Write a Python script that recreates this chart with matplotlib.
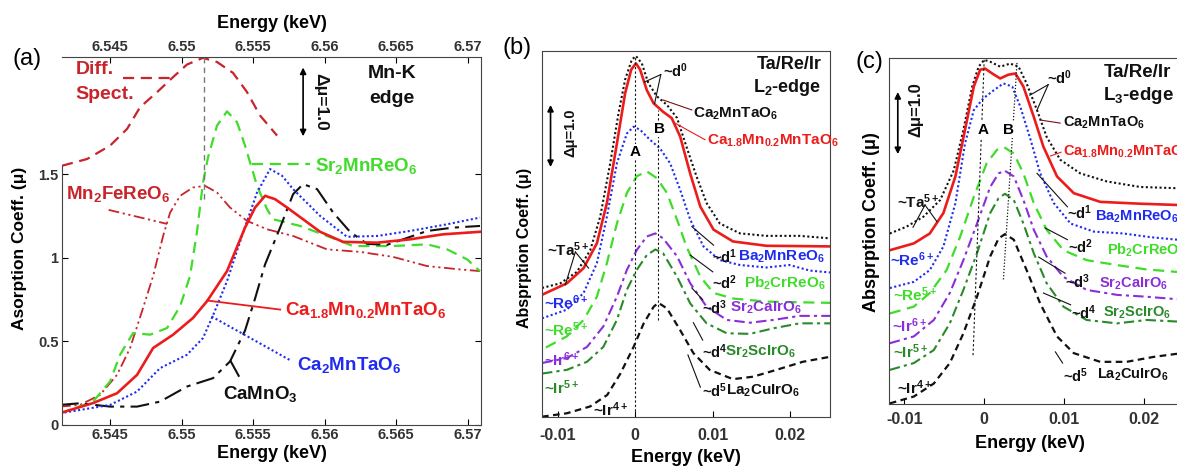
import matplotlib.pyplot as plt

# ---------------- figure geometry (pixels) ----------------
W, H = 1177, 466

# ---------------- colours ----------------
RED = "#ec1c1c"
DKRED = "#c8242c"
GREEN = "#3fdc2a"
BLUE = "#1f2bef"
PURPLE = "#8a2fd8"
DKGREEN = "#2a8a2a"
BLACK = "#111111"

# ================= panel (a): Mn-K edge =================
a_e_diff = [6.54164, 6.54339, 6.5450, 6.54619, 6.5471, 6.54829, 6.54941, 6.55038,
            6.5515, 6.55248, 6.5536, 6.55458, 6.55549, 6.55668]
a_mu_diff = [1.55, 1.59, 1.67, 1.77, 1.90, 1.99, 2.08, 2.155, 2.195, 2.17, 2.105, 1.99, 1.85, 1.73]

a_e_camt18 = [6.54150, 6.54381, 6.54549, 6.54689, 6.54801, 6.54941, 6.55080, 6.55178, 6.55318,
              6.55444, 6.55514, 6.55584, 6.55654, 6.55738, 6.55969, 6.56129, 6.56367, 6.56598,
              6.56829, 6.57087]
a_mu_camt18 = [0.071, 0.131, 0.19, 0.30, 0.46, 0.54, 0.64, 0.74, 0.92, 1.18, 1.30, 1.37, 1.35,
               1.30, 1.155, 1.095, 1.09, 1.11, 1.14, 1.155]

a_e_camt = [6.54150, 6.54500, 6.54689, 6.54850, 6.55038, 6.55150, 6.55220, 6.55318, 6.55430,
            6.55528, 6.55619, 6.55703, 6.55780, 6.55969, 6.56157, 6.56367, 6.56598, 6.56857, 6.57087]
a_mu_camt = [0.07, 0.12, 0.20, 0.34, 0.42, 0.52, 0.655, 0.86, 1.15, 1.39, 1.53, 1.49, 1.41, 1.25,
             1.125, 1.13, 1.16, 1.20, 1.24]

a_e_cmo = [6.54150, 6.54290, 6.54500, 6.54689, 6.54850, 6.55038, 6.55220, 6.55339, 6.55444,
           6.55514, 6.55584, 6.55689, 6.55780, 6.55850, 6.55948, 6.56060, 6.56178, 6.56297,
           6.56437, 6.56549, 6.56717, 6.56899, 6.57087]
a_mu_cmo = [0.12, 0.13, 0.11, 0.11, 0.14, 0.23, 0.28, 0.38, 0.565, 0.756, 0.96, 1.18, 1.38, 1.44,
            1.41, 1.27, 1.155, 1.083, 1.077, 1.11, 1.16, 1.18, 1.19]

a_e_smro = [6.54150, 6.54381, 6.54500, 6.54570, 6.54661, 6.54780, 6.54899, 6.54990, 6.55059,
            6.55108, 6.55150, 6.55185, 6.55248, 6.55318, 6.55388, 6.55444, 6.55479, 6.55528,
            6.55598, 6.55640, 6.55829, 6.56017, 6.56199, 6.56479, 6.56717, 6.56857, 6.56997, 6.57087]
a_mu_smro = [0.07, 0.14, 0.26, 0.42, 0.55, 0.54, 0.58, 0.71, 0.89, 1.155, 1.45, 1.60, 1.79, 1.875,
             1.81, 1.67, 1.57, 1.43, 1.29, 1.23, 1.19, 1.13, 1.07, 1.07, 1.08, 1.05, 0.99, 0.92]

a_e_mfro = [6.54150, 6.54290, 6.54430, 6.54549, 6.54640, 6.54731, 6.54801, 6.54871, 6.54920,
            6.54990, 6.55080, 6.55164, 6.55248, 6.55339, 6.55458, 6.55598, 6.55780, 6.56017,
            6.56248, 6.56479, 6.56717, 6.56948, 6.57087]
a_mu_mfro = [0.11, 0.12, 0.18, 0.30, 0.46, 0.70, 0.89, 1.13, 1.27, 1.37, 1.42, 1.43, 1.39, 1.30,
             1.22, 1.17, 1.13, 1.05, 1.035, 1.005, 0.95, 0.93, 0.92]

a_xticks = [6.545, 6.55, 6.555, 6.56, 6.565, 6.57]
a_xticklabels = ["6.545", "6.55", "6.555", "6.56", "6.565", "6.57"]
a_yticks = [0, 0.5, 1, 1.5]
a_yticklabels = ["0", "0.5", "1", "1.5"]

# ================= panel (b): L2 edge =================
b_e_blk = [-0.0120, -0.00964, -0.0075, -0.00578, -0.0045, -0.00321, -0.00214, -0.00129, -0.00043,
           0.0001, 0.00086, 0.0017, 0.0028, 0.0041, 0.0054, 0.0066, 0.0079, 0.0092, 0.0109,
           0.0135, 0.0169, 0.0212, 0.0251]
b_mu_blk = [2.08, 2.155, 2.34, 2.69, 3.23, 4.09, 4.90, 5.44, 5.76, 5.82, 5.70, 5.38, 5.17, 5.03,
            4.82, 4.36, 3.88, 3.45, 3.12, 2.96, 2.92, 2.92, 2.88]
b_e_red = [-0.0120, -0.0088, -0.00664, -0.00493, -0.00364, -0.00235, -0.00129, -0.00051, 0.0001,
           0.00064, 0.0015, 0.00236, 0.0036, 0.0047, 0.0058, 0.0071, 0.0084, 0.0101, 0.0126,
           0.0169, 0.0251]
b_mu_red = [1.97, 2.155, 2.40, 2.80, 3.45, 4.41, 5.22, 5.60, 5.70, 5.60, 5.27, 5.06, 4.92, 4.82,
            4.52, 3.92, 3.39, 3.02, 2.83, 2.76, 2.75]
b_e_blu = [-0.012, -0.0088, -0.00664, -0.00493, -0.00364, -0.00235, -0.00107, -0.0002, 0.00064,
           0.0019, 0.0032, 0.0045, 0.0058, 0.0071, 0.0088, 0.0109, 0.0135, 0.0169, 0.0199,
           0.0225, 0.0251]
b_mu_blu = [1.59, 1.73, 2.00, 2.48, 3.23, 4.09, 4.57, 4.68, 4.63, 4.47, 4.33, 4.09, 3.66, 3.18,
            2.75, 2.53, 2.45, 2.41, 2.45, 2.36, 2.33]
b_e_grn = [-0.0115, -0.0088, -0.00664, -0.00493, -0.00364, -0.00235, -0.00107, 0.0002, 0.0015,
           0.0028, 0.0041, 0.0054, 0.0066, 0.0084, 0.0101, 0.0126, 0.0169, 0.0251]
b_mu_grn = [1.12, 1.30, 1.565, 1.94, 2.48, 3.12, 3.61, 3.88, 3.96, 3.85, 3.61, 3.18, 2.75, 2.26,
            2.00, 1.91, 1.86, 1.84]
b_e_ir = [-0.012, -0.0088, -0.0062, -0.0041, -0.00235, -0.00107, 0.0002, 0.0015, 0.0026, 0.0036,
          0.0054, 0.0071, 0.0092, 0.0118, 0.0148, 0.0178, 0.0212, 0.0251]
b_mu_pur = [0.87, 0.95, 1.13, 1.46, 1.94, 2.37, 2.69, 2.91, 2.96, 2.88, 2.59, 2.155, 1.78, 1.565,
            1.52, 1.565, 1.63, 1.63]
b_mu_dgr = [0.70, 0.76, 0.89, 1.13, 1.565, 2.05, 2.37, 2.61, 2.70, 2.64, 2.26, 1.83, 1.51, 1.35,
            1.34, 1.43, 1.51, 1.51]
b_e_dsh = [-0.012, -0.0088, -0.0058, -0.0036, -0.0019, -0.0002, 0.0011, 0.0024, 0.0030, 0.0041,
           0.0058, 0.0075, 0.0096, 0.0126, 0.0152, 0.0182, 0.0216, 0.0251]
b_mu_dsh = [0.005, 0.06, 0.17, 0.355, 0.70, 1.13, 1.51, 1.78, 1.84, 1.75, 1.40, 1.03, 0.76, 0.61,
            0.65, 0.76, 0.89, 0.97]

# ================= panel (c): L3 edge =================
c_e_blk = [-0.0118, -0.0097, -0.0076, -0.0055, -0.0038, -0.0026, -0.0015, -0.0007, 0.0, 0.00075,
           0.002, 0.00325, 0.0043, 0.0053, 0.0066, 0.0078, 0.0095, 0.012, 0.0153, 0.0195, 0.0241]
c_mu_blk = [2.75, 2.86, 3.02, 3.29, 3.77, 4.42, 5.12, 5.44, 5.55, 5.52, 5.44, 5.49, 5.44, 5.17,
            4.74, 4.31, 3.94, 3.72, 3.59, 3.50, 3.48]
c_e_red = [-0.0118, -0.0088, -0.0068, -0.0051, -0.0036, -0.0024, -0.0013, -0.0005, 0.0001, 0.001,
           0.002, 0.003, 0.0039, 0.0049, 0.0062, 0.0074, 0.0091, 0.0112, 0.0145, 0.0195, 0.0241]
c_mu_red = [2.48, 2.59, 2.75, 3.08, 3.67, 4.42, 5.12, 5.39, 5.41, 5.33, 5.25, 5.31, 5.33, 5.12,
            4.63, 4.15, 3.67, 3.40, 3.26, 3.23, 3.21]
c_e_blu = [-0.0118, -0.0088, -0.0068, -0.0051, -0.0036, -0.0024, -0.0013, -0.0001, 0.0012, 0.0024,
           0.0035, 0.0045, 0.0058, 0.007, 0.0087, 0.0108, 0.0137, 0.0174, 0.0208, 0.0241]
c_mu_blu = [1.87, 1.97, 2.16, 2.54, 3.24, 4.20, 4.74, 4.93, 5.06, 5.17, 5.12, 4.80, 4.26, 3.72,
            3.24, 2.91, 2.78, 2.75, 2.69, 2.65]
c_e_grn = [-0.0118, -0.0088, -0.0068, -0.0047, -0.003, -0.0013, 0.0003, 0.0016, 0.0025, 0.0037,
           0.0049, 0.0062, 0.0078, 0.0099, 0.0128, 0.0166, 0.0203, 0.0241]
c_mu_grn = [1.46, 1.57, 1.79, 2.16, 2.70, 3.34, 3.88, 4.10, 4.14, 4.04, 3.72, 3.24, 2.81, 2.48,
            2.32, 2.24, 2.17, 2.13]
c_e_ir = [-0.0118, -0.0088, -0.0063, -0.0043, -0.0026, -0.0009, 0.00075, 0.0018, 0.0026, 0.0037,
          0.0049, 0.0062, 0.0078, 0.0099, 0.0128, 0.0166, 0.0203, 0.0241]
c_mu_pur = [0.98, 1.09, 1.355, 1.79, 2.32, 2.91, 3.50, 3.72, 3.76, 3.67, 3.29, 2.81, 2.38, 2.05,
            1.84, 1.76, 1.73, 1.69]
c_mu_dgr = [0.55, 0.66, 0.87, 1.30, 1.84, 2.43, 3.08, 3.32, 3.39, 3.29, 2.91, 2.43, 1.95, 1.57,
            1.355, 1.30, 1.355, 1.33]
c_e_dsh = [-0.0118, -0.0088, -0.0063, -0.0043, -0.0026, -0.0009, 0.00075, 0.0018, 0.0026, 0.0037,
           0.0053, 0.007, 0.0091, 0.0112, 0.0145, 0.0178, 0.0212, 0.0241]
c_mu_dsh = [0.01, 0.12, 0.33, 0.66, 1.14, 1.73, 2.38, 2.67, 2.74, 2.65, 2.16, 1.62, 1.09, 0.82,
            0.68, 0.68, 0.76, 0.81]

bc_xticks = [-0.01, 0, 0.01, 0.02]
bc_xticklabels = ["-0.01", "0", "0.01", "0.02"]

# ---------------- line styles ----------------
DOT = dict(ls=(0, (1, 1.2)), lw=1.5)
SOLID = dict(ls="-", lw=1.9)
DASH = dict(ls=(0, (5, 3)), lw=1.6)
DASHDOT = dict(ls=(0, (5, 2, 1.5, 2)), lw=1.5)
SHORTDASH = dict(ls=(0, (3, 2)), lw=1.6)
LONGDD = dict(ls=(0, (9, 3, 2, 3)), lw=1.5)
DDD = dict(ls=(0, (6, 2, 1.2, 2, 1.2, 2)), lw=1.3)

plt.rcParams["font.family"] = ["Liberation Sans", "DejaVu Sans"]
plt.rcParams["font.weight"] = "bold"
plt.rcParams["mathtext.fontset"] = "custom"
plt.rcParams["mathtext.rm"] = "Liberation Sans:bold"
plt.rcParams["mathtext.it"] = "Liberation Sans:bold"
plt.rcParams["mathtext.bf"] = "Liberation Sans:bold"
plt.rcParams["axes.edgecolor"] = "#444444"


def box(left, top, right, bottom):
    return [left / W, 1 - bottom / H, (right - left) / W, (bottom - top) / H]


def ftext(px, py, s, **kw):
    fig.text(px / W, 1 - py / H, s, ha="center", va="center", **kw)


def lab(ax, x, y, s, c, fs, **kw):
    ax.text(x, y, s, color=c, fontsize=fs, fontweight="bold", va="center", **kw)


def darrow(ax, x, y0, y1):
    ax.annotate("", xy=(x, y1), xytext=(x, y0),
                arrowprops=dict(arrowstyle="<|-|>", color="k", lw=1.2,
                                mutation_scale=9, shrinkA=0, shrinkB=0))


fig = plt.figure(figsize=(W / 100, H / 100), dpi=100)

# ======================= (a) =======================
ax = fig.add_axes(box(62, 57, 481, 425))
ax.plot(a_e_diff, a_mu_diff, color=DKRED, **DASH)
ax.plot(a_e_mfro, a_mu_mfro, color=DKRED, **DDD)
ax.plot(a_e_smro, a_mu_smro, color=GREEN, **DASH)
ax.plot(a_e_cmo, a_mu_cmo, color=BLACK, **LONGDD)
ax.plot(a_e_camt, a_mu_camt, color=BLUE, **DOT)
ax.plot(a_e_camt18, a_mu_camt18, color=RED, **SOLID)
ax.plot([6.5516, 6.5516], [1.35, 2.2], color="#777777", ls=(0, (4, 3)), lw=1.0)

# leader lines
ax.plot([6.5459, 6.5494], [2.075, 2.075], color=DKRED, **DASH)
ax.plot([6.5549, 6.5590], [1.56, 1.56], color=GREEN, **DASH)
ax.plot([6.5449, 6.5490], [1.286, 1.202], color=DKRED, **DDD)
ax.plot([6.5518, 6.5569], [0.744, 0.69], color=RED, lw=1.3)
ax.plot([6.5521, 6.5576], [0.649, 0.387], color=BLUE, **DOT)
ax.plot([6.5534, 6.5542], [0.387, 0.262], color=BLACK, **LONGDD)

lab(ax, 6.5426, 2.125, "Diff.", DKRED, 14)
lab(ax, 6.5426, 1.976, "Spect.", DKRED, 14)
lab(ax, 6.5647, 2.10, "Mn-K", BLACK, 14, ha="center")
lab(ax, 6.5647, 1.952, "edge", BLACK, 14, ha="center")
darrow(ax, 6.5585, 1.726, 2.137)
lab(ax, 6.5597, 1.93, "Δμ=1.0", BLACK, 12.5, rotation=270, ha="center")
lab(ax, 6.5593, 1.55, r"Sr$_2$MnReO$_6$", GREEN, 13.5)
lab(ax, 6.5419, 1.38, r"Mn$_2$FeReO$_6$", DKRED, 13.5)
lab(ax, 6.5572, 0.69, r"Ca$_{1.8}$Mn$_{0.2}$MnTaO$_6$", RED, 13.5)
lab(ax, 6.5581, 0.357, r"Ca$_2$MnTaO$_6$", BLUE, 13.5)
lab(ax, 6.5529, 0.185, r"CaMnO$_3$", BLACK, 13.5)

ax.set_xlim(6.54164, 6.57094)
ax.set_ylim(0, 2.2)
ax.set_xticks(a_xticks)
ax.set_xticklabels(a_xticklabels)
ax.set_yticks(a_yticks)
ax.set_yticklabels(a_yticklabels)
ax.tick_params(direction="in", top=True, right=True, labeltop=True, labelsize=10.5,
               pad=2.5, labelcolor="#333333", length=4)
ax.spines["left"].set_bounds(0, 1.55)

ftext(27, 59, "(a)", fontsize=17, fontweight="normal")
ftext(272, 24, "Energy (keV)", fontsize=13)
ftext(272, 453, "Energy (keV)", fontsize=13)
ftext(20, 248, "Asorption Coeff. (μ)", fontsize=12.5, rotation=90)


# ======================= (b) and (c) =======================
def edge_panel(ax, curves):
    for e, mu, col, sty in curves:
        ax.plot(e, mu, color=col, **sty)
    ax.set_xticks(bc_xticks)
    ax.set_xticklabels(bc_xticklabels)
    ax.set_yticks([])
    ax.tick_params(axis="x", direction="in", labelsize=11.5, labelcolor="#333333", length=4)


ax = fig.add_axes(box(542, 51, 830, 417))
edge_panel(ax, [
    (b_e_dsh, b_mu_dsh, BLACK, SHORTDASH),
    (b_e_ir, b_mu_dgr, DKGREEN, DASHDOT),
    (b_e_ir, b_mu_pur, PURPLE, DASHDOT),
    (b_e_grn, b_mu_grn, GREEN, DASH),
    (b_e_blu, b_mu_blu, BLUE, DOT),
    (b_e_blk, b_mu_blk, BLACK, DOT),
    (b_e_red, b_mu_red, RED, SOLID),
])
ax.set_xlim(-0.0120, 0.0251)
ax.set_ylim(0, 5.9)
ax.tick_params(axis="x", pad=8)
ax.plot([0, 0], [0.1, 5.82], color=BLACK, ls=(0, (2, 2)), lw=0.8)
ax.plot([0.003, 0.003], [1.56, 4.95], color=BLACK, ls=(0, (2, 2)), lw=0.8)
ax.text(0, 4.27, "A", fontsize=11, ha="center", va="center",
        bbox=dict(fc="white", ec="none", pad=0.5))
ax.text(0.0031, 4.64, "B", fontsize=11, ha="center", va="center",
        bbox=dict(fc="white", ec="none", pad=0.5))
darrow(ax, -0.0109, 4.03, 5.03)
lab(ax, -0.0084, 4.58, "Δμ=1.0", BLACK, 10.5, rotation=90, ha="center")
lab(ax, 0.0240, 5.68, "Ta/Re/Ir", BLACK, 13, ha="right")
lab(ax, 0.0240, 5.31, r"L$_2$-edge", BLACK, 13, ha="right")

b_leaders = [
    ([0.0033, 0.0012], [5.52, 5.40], BLACK), ([0.0033, 0.0025], [5.52, 5.05], BLACK),
    ([0.0036, 0.0073], [5.11, 4.95], "#7a1010"), ([0.0051, 0.0090], [4.74, 4.47], RED),
    ([0.0101, 0.0073], [2.77, 3.07], BLACK), ([0.0100, 0.0071], [2.34, 2.61], BLACK),
    ([0.0087, 0.0073], [1.89, 2.08], BLACK), ([0.0087, 0.0075], [1.24, 1.52], BLACK),
    ([0.0084, 0.0068], [0.48, 1.00], BLACK),
    ([-0.0077, -0.0090], [2.66, 2.13], BLACK), ([-0.0077, -0.0060], [2.66, 2.40], BLACK),
]
for xs, ys, col in b_leaders:
    ax.plot(xs, ys, color=col, lw=0.8)

lab(ax, 0.0036, 5.58, r"~d$^0$", BLACK, 10.5)
lab(ax, 0.0075, 4.89, r"Ca$_2$MnTaO$_6$", BLACK, 11)
lab(ax, 0.0093, 4.45, r"Ca$_{1.8}$Mn$_{0.2}$MnTaO$_6$", RED, 11)
lab(ax, 0.0099, 2.58, r"~d$^1$", BLACK, 10.5)
lab(ax, 0.0133, 2.58, r"Ba$_2$MnReO$_6$", BLUE, 11)
lab(ax, 0.0099, 2.16, r"~d$^2$", BLACK, 10.5)
lab(ax, 0.0140, 2.16, r"Pb$_2$CrReO$_6$", GREEN, 11)
lab(ax, 0.0086, 1.76, r"~d$^3$", BLACK, 10.5)
lab(ax, 0.0122, 1.76, r"Sr$_2$CaIrO$_6$", PURPLE, 11)
lab(ax, 0.0086, 1.05, r"~d$^4$", BLACK, 10.5)
lab(ax, 0.0116, 1.05, r"Sr$_2$ScIrO$_6$", DKGREEN, 11)
lab(ax, 0.0086, 0.42, r"~d$^5$", BLACK, 10.5)
lab(ax, 0.0117, 0.42, r"La$_2$CuIrO$_6$", BLACK, 11)
lab(ax, -0.0113, 2.69, r"~Ta$^{5+}$", BLACK, 11)
lab(ax, -0.0118, 1.85, r"~Re$^{6+}$", BLUE, 11)
lab(ax, -0.0118, 1.40, r"~Re$^{5+}$", GREEN, 11)
lab(ax, -0.0118, 0.92, r"~Ir$^{6+}$", PURPLE, 11)
lab(ax, -0.0118, 0.48, r"~Ir$^{5+}$", DKGREEN, 11)
lab(ax, -0.0054, 0.11, r"~Ir$^{4+}$", BLACK, 11)

ftext(517, 48, "(b)", fontsize=17, fontweight="normal")
ftext(686, 457, "Energy (keV)", fontsize=13)
ftext(525, 248, "Absprption Coeff. (μ)", fontsize=11.5, rotation=90)

# ---------- (c) ----------
ax = fig.add_axes(box(889, 58, 1177, 404))
edge_panel(ax, [
    (c_e_dsh, c_mu_dsh, BLACK, SHORTDASH),
    (c_e_ir, c_mu_dgr, DKGREEN, DASHDOT),
    (c_e_ir, c_mu_pur, PURPLE, DASHDOT),
    (c_e_grn, c_mu_grn, GREEN, DASH),
    (c_e_blu, c_mu_blu, BLUE, DOT),
    (c_e_blk, c_mu_blk, BLACK, DOT),
    (c_e_red, c_mu_red, RED, SOLID),
])
ax.set_xlim(-0.0119, 0.0241)
ax.set_ylim(0, 5.58)
ax.tick_params(axis="x", pad=6)
ax.spines["right"].set_visible(False)
ax.plot([0, -0.0014], [5.55, 0.76], color=BLACK, ls=(0, (2, 2)), lw=0.8)
ax.plot([0.0041, 0.0024], [5.5, 2.0], color=BLACK, ls=(0, (1, 1.5)), lw=0.9)
ax.text(-0.0001, 4.42, "A", fontsize=11, ha="center", va="center",
        bbox=dict(fc="white", ec="none", pad=0.5))
ax.text(0.0030, 4.42, "B", fontsize=11, ha="center", va="center",
        bbox=dict(fc="white", ec="none", pad=0.5))
darrow(ax, -0.0108, 4.03, 5.03)
lab(ax, -0.0086, 4.74, "Δμ=1.0", BLACK, 12, rotation=90, ha="center")
lab(ax, 0.0149, 5.35, "Ta/Re/Ir", BLACK, 13.5)
lab(ax, 0.0149, 4.98, r"L$_3$-edge", BLACK, 13.5)

c_leaders = [
    ([0.0080, 0.0057], [5.15, 4.98], BLACK), ([0.0080, 0.0066], [5.15, 4.74], BLACK),
    ([0.0070, 0.0095], [4.58, 4.53], "#7a1010"), ([0.0083, 0.0096], [4.00, 4.06], RED),
    ([0.0104, 0.0066], [3.18, 3.72], BLACK), ([0.0104, 0.0076], [2.65, 2.84], BLACK),
    ([0.0101, 0.0068], [2.11, 2.37], BLACK), ([0.0108, 0.0074], [1.60, 1.79], BLACK),
    ([0.0098, 0.0089], [0.66, 0.84], BLACK),
    ([-0.0074, -0.0089], [3.21, 2.85], BLACK), ([-0.0074, -0.0059], [3.21, 2.94], BLACK),
]
for xs, ys, col in c_leaders:
    ax.plot(xs, ys, color=col, lw=0.8)

lab(ax, 0.0079, 5.26, r"~d$^0$", BLACK, 10.5)
lab(ax, 0.0098, 4.53, r"Ca$_2$MnTaO$_6$", BLACK, 10.5)
lab(ax, 0.0098, 4.06, r"Ca$_{1.8}$Mn$_{0.2}$MnTaO$_6$", RED, 10.5)
lab(ax, 0.0104, 3.08, r"~d$^1$", BLACK, 10.5)
lab(ax, 0.0139, 3.02, r"Ba$_2$MnReO$_6$", BLUE, 10.5)
lab(ax, 0.0105, 2.53, r"~d$^2$", BLACK, 10.5)
lab(ax, 0.0154, 2.48, r"Pb$_2$CrReO$_6$", GREEN, 10.5)
lab(ax, 0.0101, 1.98, r"~d$^3$", BLACK, 10.5)
lab(ax, 0.0143, 1.94, r"Sr$_2$CaIrO$_6$", PURPLE, 10.5)
lab(ax, 0.0108, 1.47, r"~d$^4$", BLACK, 10.5)
lab(ax, 0.0149, 1.47, r"Sr$_2$ScIrO$_6$", DKGREEN, 10.5)
lab(ax, 0.0098, 0.45, r"~d$^5$", BLACK, 10.5)
lab(ax, 0.0141, 0.47, r"La$_2$CuIrO$_6$", BLACK, 10.5)
lab(ax, -0.0109, 3.26, r"~Ta$^{5+}$", BLACK, 11)
lab(ax, -0.0118, 2.32, r"~Re$^{6+}$", BLUE, 11)
lab(ax, -0.0114, 1.76, r"~Re$^{5+}$", GREEN, 11)
lab(ax, -0.0115, 1.27, r"~Ir$^{6+}$", PURPLE, 11)
lab(ax, -0.0114, 0.84, r"~Ir$^{5+}$", DKGREEN, 11)
lab(ax, -0.0109, 0.27, r"~Ir$^{4+}$", BLACK, 11)

ftext(869, 62, "(c)", fontsize=17, fontweight="normal")
ftext(1030, 443, "Energy (keV)", fontsize=13)
ftext(872, 222, "Absprption Coeff. (μ)", fontsize=13, rotation=90)

fig.savefig("out.png", dpi=100)
